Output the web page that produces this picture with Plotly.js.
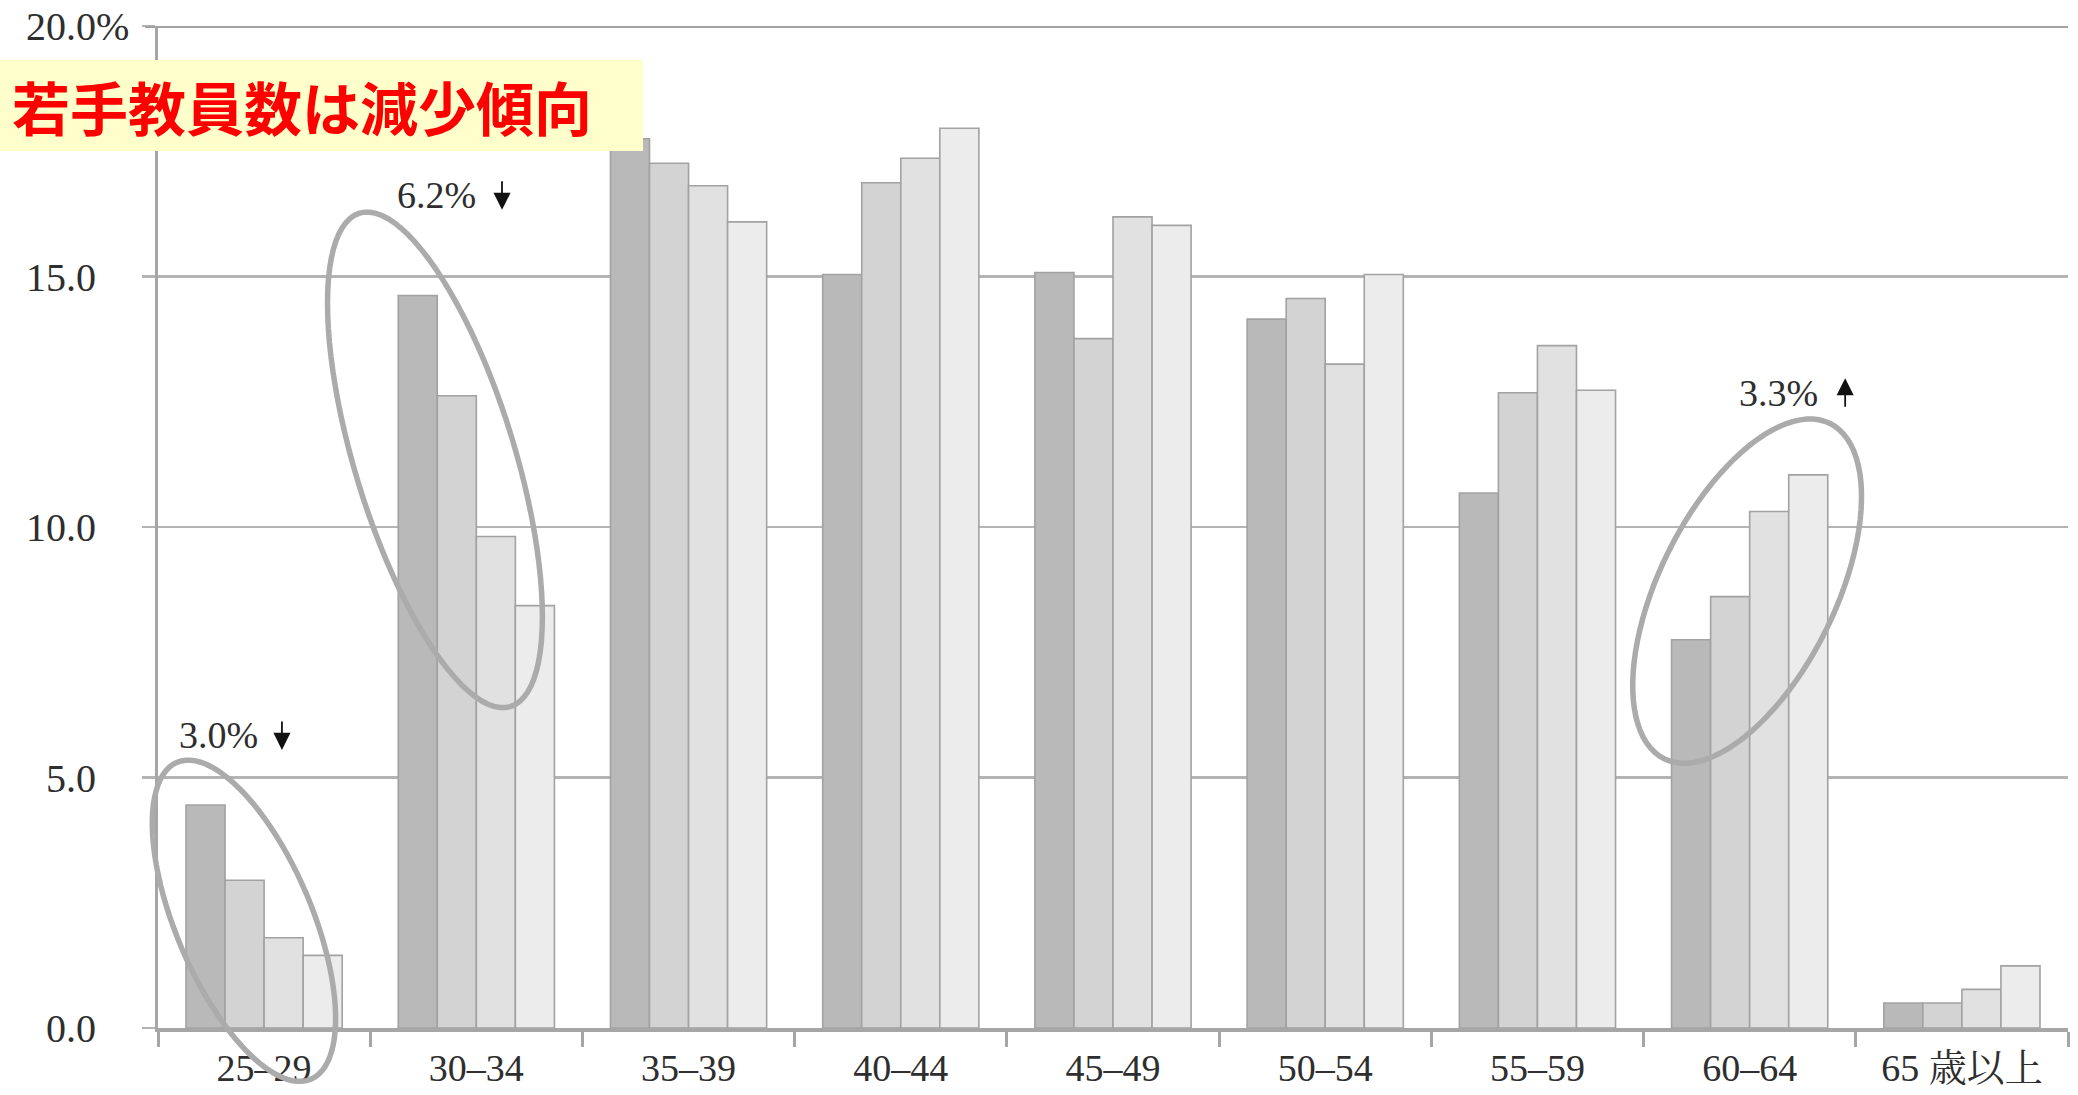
<!DOCTYPE html>
<html>
<head>
<meta charset="utf-8">
<script src="https://cdn.plot.ly/plotly-3.0.1.min.js"></script>
<style>
  html, body { margin: 0; padding: 0; background: #ffffff; }
  #chart { width: 2078px; height: 1095px; }
</style>
</head>
<body>
<div id="chart"></div>
<script>
// Age bands of teachers and the share (%) of each band in four survey rounds
const ageGroups = ['25–29', '30–34', '35–39', '40–44', '45–49', '50–54', '55–59', '60–64', '65 歳以上'];
const round1 = [4.45, 14.62, 17.75, 15.04, 15.08, 14.15, 10.68, 7.75, 0.50];
const round2 = [2.95, 12.62, 17.26, 16.87, 13.76, 14.56, 12.68, 8.61, 0.50];
const round3 = [1.80, 9.81, 16.81, 17.36, 16.19, 13.25, 13.62, 10.31, 0.77];
const round4 = [1.45, 8.43, 16.09, 17.96, 16.02, 15.04, 12.73, 11.04, 1.24];
const roundNames = ['第1回', '第2回', '第3回', '第4回'];

const yTickVals = [0, 5, 10, 15, 20];
const yTickText = ['0.0', '5.0', '10.0', '15.0', '20.0'];

// Bands whose change from the first to the last round is called out
const highlightBands = [0, 1, 7];

const headline = '若手教員数は減少傾向';

// ---- styling / geometry ----
const W = 2078, H = 1095;
const M = { l: 158, r: 10, t: 26, b: 67 };
const plotW = W - M.l - M.r, plotH = H - M.t - M.b;
const yMin = 0, yMax = 20;
const pxPerCat = plotW / ageGroups.length;
const pxPerUnit = plotH / (yMax - yMin);

const barFills = ['#b9b9b9', '#d3d3d3', '#e1e1e1', '#ececec'];
const barEdge = '#a2a2a2';
const gridGray = '#b4b4b4';
const axisGray = '#a6a6a6';
const inkColor = '#2e2e2e';
const serif = '"Liberation Serif", "Noto Serif CJK JP", "Noto Sans CJK JP", serif';

const toPaperX = px => (px - M.l) / plotW;
const toPaperY = py => (H - M.b - py) / plotH;
const catToPx = c => M.l + (c + 0.5) * pxPerCat;
const valToPx = v => M.t + (yMax - v) * pxPerUnit;

// Tilted loops around the highlighted bands (centre in band/value units, radii in px)
const loops = [
  { shift: -0.095, val: 2.14, a: 172, b: 68, tilt: 22.9, lean: -1 },
  { shift: -0.195, val: 11.34, a: 258, b: 80, tilt: 17.0, lean: -1 },
  { shift: -0.012, val: 8.72, a: 187, b: 88, tilt: 26.3, lean: 1 }
];

function loopPath(band, o) {
  const cx = catToPx(band + o.shift), cy = valToPx(o.val);
  const phi = o.tilt * Math.PI / 180;
  const ux = o.lean * Math.sin(phi), uy = -Math.cos(phi);
  const vx = Math.cos(phi), vy = o.lean * Math.sin(phi);
  const pts = [];
  for (let i = 0; i <= 96; i++) {
    const t = 2 * Math.PI * i / 96;
    const px = cx + o.a * Math.cos(t) * ux + o.b * Math.sin(t) * vx;
    const py = cy + o.a * Math.cos(t) * uy + o.b * Math.sin(t) * vy;
    pts.push(toPaperX(px).toFixed(5) + ',' + toPaperY(py).toFixed(5));
  }
  return 'M' + pts.join(' L') + ' Z';
}

// Change labels above each loop: text left edge and arrow tip (band units / value units)
const notePlaces = [
  { shift: -0.41, val: 5.85, arrowShift: 0.084, arrowTip: 5.55 },
  { shift: -0.383, val: 16.63, arrowShift: 0.121, arrowTip: 16.33 },
  { shift: -0.059, val: 12.67, arrowShift: 0.45, arrowTip: 12.97 }
];
const arrowLen = 30;

const rounds = [round1, round2, round3, round4];
const traces = rounds.map((vals, i) => ({
  type: 'bar',
  name: roundNames[i],
  x: ageGroups,
  y: vals,
  marker: { color: barFills[i], line: { color: barEdge, width: 1.6 } },
  hoverinfo: 'skip'
}));

const annotations = [];
highlightBands.forEach((band, k) => {
  const diff = round4[band] - round1[band];
  const p = notePlaces[k];
  annotations.push({
    xref: 'x', yref: 'y',
    x: band + p.shift, y: p.val,
    xanchor: 'left', yanchor: 'middle',
    text: Math.abs(diff).toFixed(1) + '%',
    showarrow: false,
    font: { family: serif, size: 38, color: inkColor }
  });
  annotations.push({
    xref: 'x', yref: 'y',
    x: band + p.arrowShift, y: p.arrowTip,
    text: '',
    showarrow: true,
    arrowhead: 2, arrowsize: 1.9, arrowwidth: 1.8,
    arrowcolor: '#111111',
    ax: 0, ay: diff < 0 ? -arrowLen : arrowLen,
    standoff: 0, startstandoff: 0
  });
});

// percent sign after the top tick value
annotations.push({
  xref: 'paper', yref: 'paper',
  x: toPaperX(94), y: 1,
  xanchor: 'left', yanchor: 'middle',
  text: '%', showarrow: false,
  font: { family: serif, size: 40, color: inkColor }
});

// headline on a pale yellow band
annotations.push({
  xref: 'paper', yref: 'paper',
  x: toPaperX(10), y: toPaperY(106),
  xanchor: 'left', yanchor: 'middle',
  text: '<b>' + headline + '</b>', showarrow: false,
  font: { family: '"Noto Sans CJK JP", sans-serif', size: 58, color: '#ff0000' }
});

const shapes = [
  {
    type: 'line', xref: 'paper', yref: 'y',
    x0: toPaperX(145), x1: 1, y0: yMax, y1: yMax,
    line: { color: '#a2a2a2', width: 4 }, layer: 'above'
  },
  {
    type: 'rect', xref: 'paper', yref: 'paper',
    x0: toPaperX(0), x1: toPaperX(643), y0: toPaperY(151), y1: toPaperY(60),
    fillcolor: '#ffffcc', line: { width: 0 }, layer: 'above'
  }
].concat(highlightBands.map((band, k) => ({
  type: 'path', xref: 'paper', yref: 'paper',
  path: loopPath(band, loops[k]),
  line: { color: '#ababab', width: 5.5 },
  fillcolor: 'rgba(0,0,0,0)',
  layer: 'above'
})));

const layout = {
  width: W, height: H,
  margin: M,
  paper_bgcolor: '#ffffff',
  plot_bgcolor: '#ffffff',
  showlegend: false,
  barmode: 'group',
  bargap: 0.264,
  bargroupgap: 0,
  xaxis: {
    type: 'category',
    range: [-0.5, ageGroups.length - 0.5],
    tickson: 'boundaries',
    ticks: 'outside', ticklen: 15, tickwidth: 3, tickcolor: axisGray,
    showline: true, linecolor: axisGray, linewidth: 3.5,
    showgrid: false,
    ticklabelstandoff: 4,
    tickfont: { family: serif, size: 38, color: inkColor },
    fixedrange: true
  },
  yaxis: {
    range: [yMin, yMax],
    tickvals: yTickVals, ticktext: yTickText,
    ticks: 'outside', ticklen: 13, tickwidth: 2.5, tickcolor: gridGray,
    showgrid: true, gridcolor: gridGray, gridwidth: 2.5,
    showline: true, linecolor: axisGray, linewidth: 3,
    zeroline: false,
    ticklabelstandoff: 38,
    tickfont: { family: serif, size: 40, color: inkColor },
    fixedrange: true
  },
  annotations: annotations,
  shapes: shapes
};

Plotly.newPlot('chart', traces, layout, { staticPlot: true, displayModeBar: false });
</script>
</body>
</html>
